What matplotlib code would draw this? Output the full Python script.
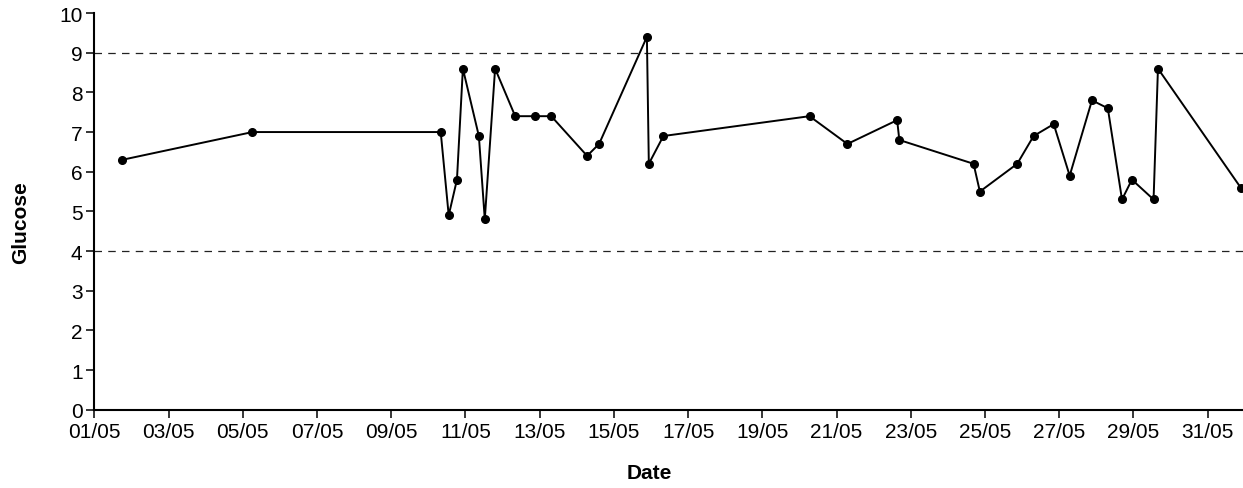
import matplotlib
matplotlib.use("Agg")
import matplotlib.pyplot as plt
import matplotlib.dates as mdates
import pandas as pd

# ===============================
# DATA
# ===============================
times = [
    "2013-05-01 18:00", "2013-05-05 06:15", "2013-05-10 08:00", "2013-05-10 13:10",
    "2013-05-10 18:30", "2013-05-10 22:20", "2013-05-11 08:40", "2013-05-11 12:30",
    "2013-05-11 19:10", "2013-05-12 08:10", "2013-05-12 20:50", "2013-05-13 07:30",
    "2013-05-14 06:40", "2013-05-14 14:25", "2013-05-15 21:20", "2013-05-15 22:35",
    "2013-05-16 08:00", "2013-05-20 06:30", "2013-05-21 07:00", "2013-05-22 15:10",
    "2013-05-22 16:35", "2013-05-24 16:35", "2013-05-24 20:40", "2013-05-25 20:50",
    "2013-05-26 07:25", "2013-05-26 20:25", "2013-05-27 06:45", "2013-05-27 21:10",
    "2013-05-28 07:25", "2013-05-28 16:35", "2013-05-28 23:00", "2013-05-29 13:00",
    "2013-05-29 15:50", "2013-05-31 21:20",
]
glucose = [
    6.3, 7.0, 7.0, 4.9, 5.8, 8.6, 6.9, 4.8, 8.6, 7.4, 7.4, 7.4,
    6.4, 6.7, 9.4, 6.2, 6.9, 7.4, 6.7, 7.3, 6.8, 6.2, 5.5, 6.2,
    6.9, 7.2, 5.9, 7.8, 7.6, 5.3, 5.8, 5.3, 8.6, 5.6,
]
ref_lines = [4, 9]
x_start = "2013-05-01 00:00"
x_end = "2013-05-31 22:50"

dates = pd.to_datetime(times)

# ===============================
# PLOT
# ===============================
plt.rcParams["font.family"] = ["Liberation Sans", "DejaVu Sans"]

fig = plt.figure(figsize=(12.43, 4.89), dpi=100)
ax = fig.add_axes([0.0759, 0.160, 0.9241, 0.8113])

for v in ref_lines:
    ax.axhline(v, color="#222222", lw=0.9, ls=(0, (6, 5)), zorder=1)

ax.plot(dates, glucose, color="black", lw=1.4, marker="o", markersize=5.5,
        zorder=3, clip_on=False)

ax.set_xlim(pd.Timestamp(x_start), pd.Timestamp(x_end))
ax.set_ylim(0, 10)
ax.set_yticks(range(0, 11))

ax.xaxis.set_major_locator(mdates.DayLocator(bymonthday=range(1, 32, 2)))
ax.xaxis.set_major_formatter(mdates.DateFormatter("%d/%m"))

for side in ["top", "right"]:
    ax.spines[side].set_visible(False)
for side in ["left", "bottom"]:
    ax.spines[side].set_linewidth(1.5)

ax.tick_params(axis="both", direction="out", length=5.5, width=1.1,
               labelsize=15, pad=3)

ax.set_xlabel("Date", fontsize=15, fontweight="bold")
ax.set_ylabel("Glucose", fontsize=15, fontweight="bold")
ax.xaxis.set_label_coords(0.483, -0.135)
ax.yaxis.set_label_coords(-0.056, 0.473)

fig.savefig("out.png", dpi=100)
